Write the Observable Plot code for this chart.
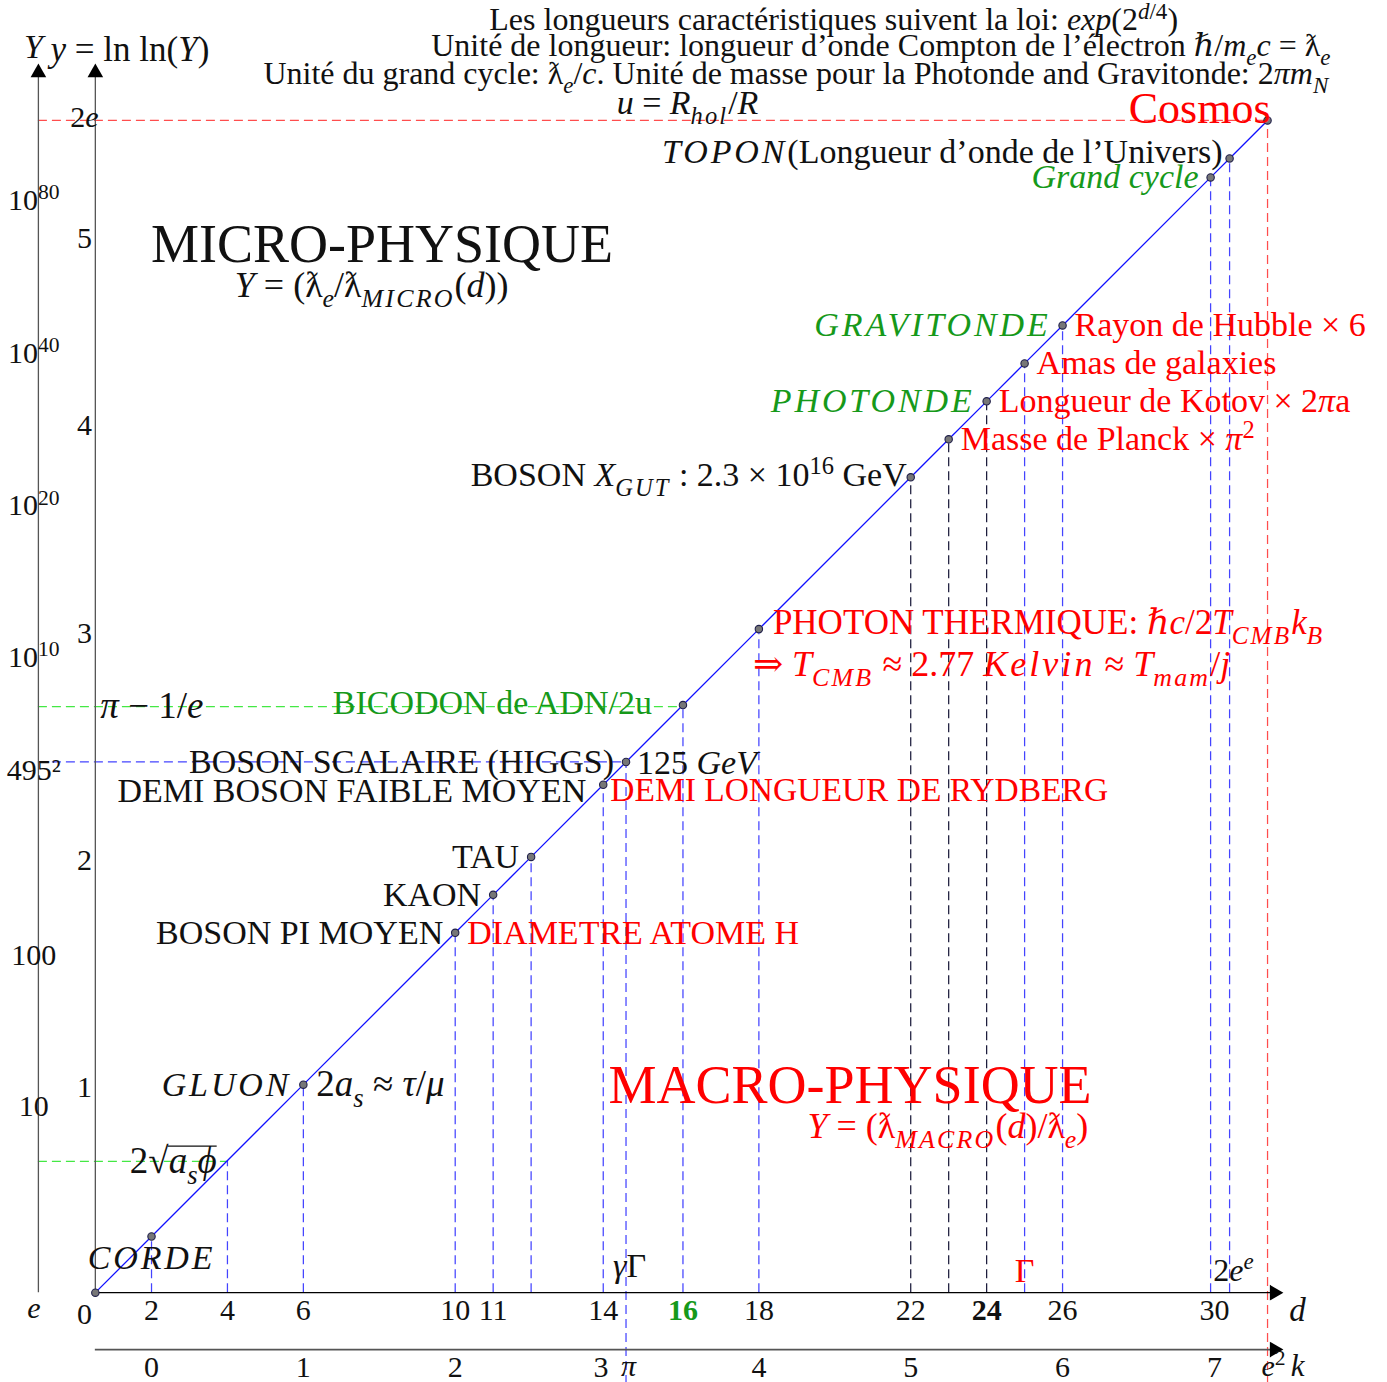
<!DOCTYPE html>
<html><head><meta charset="utf-8">
<script src="https://cdn.jsdelivr.net/npm/d3@7"></script>
<script src="https://cdn.jsdelivr.net/npm/@observablehq/plot@0.6"></script>
<style>
html,body{margin:0;padding:0;background:#fff;}
</style></head><body><div id="chart"></div>
<script>
// ---------- DATA ----------
const pointNames = ["origine","CORDE","GLUON","BOSON PI MOYEN","KAON","TAU","DEMI BOSON FAIBLE MOYEN","HIGGS","BICODON","PHOTON THERMIQUE","X_GUT","Planck","Kotov","Amas","Hubble","Grand cycle","TOPON","Cosmos"];
const pointD     = [0.52, 2, 6, 10, 11, 12, 13.9, 14.5, 16, 18, 22, 23, 24, 25, 26, 29.9, 30.4, 31.4];
const P = name => pointD[pointNames.indexOf(name)];

const blueDrops = [2, 4, 6, 10, 11, 12, 13.9, 16, 18, 25, 26, 29.9, 30.4];
const darkDrops = [22, 23, 24];
const longBlueDrops = [14.5];
const redDrops = [31.4];

const axisYd = -0.98;      // position of the Y (log) axis on the d scale
const kAxisV = -0.98;      // vertical level of the k axis
const bottomV = -1.9;

const redLevels = [31.4];
const greenLevels = [15.96, 3.98];
const blueLevels = [14.5];

const dTicks = [2, 4, 6, 10, 11, 13.9, 18, 22, 26, 30];
const dTickLabels = ["2","4","6","10","11","14","18","22","26","30"];
const dTicksBold = [24];
const dTicksGreen = [16];
const kTicks = [0,1,2,4,5,6,7];
const kTickBesidePi = [3];
const kSpecial = [Math.PI, Math.E*Math.E];
const kSpecialLabels = ["<i>π</i>", "<i>e</i><sup>2</sup>"];

const bigYLabels = ["10<sup>80</sup>","10<sup>40</sup>","10<sup>20</sup>","10<sup>10</sup>","495²","100","10","<i>e</i>"];
const bigYV      = [29.29, 25.26, 21.25, 17.25, 14.27, 9.4, 5.42, 0.1];
const smallYLabels = ["5","4","3","2","1","0","2<i>e</i>"];
const smallYV      = [28.3, 23.37, 17.88, 11.9, 5.92, -0.05, 31.47];

const title1 = [{d: 19.97, v: 34.05, text: "Les longueurs caractéristiques suivent la loi: <i>exp</i>(2<sup><i>d</i>/4</sup>)"}];
const titlesRight = [
  {d: 33.06, v: 33.37, text: "Unité de longueur: longueur d’onde Compton de l’électron ℏ/<i>m<sub>e</sub>c</i> = ƛ<sub><i>e</i></sub>"},
  {d: 33.0, v: 32.63, text: "Unité du grand cycle: ƛ<sub><i>e</i></sub>/<i>c</i>. Unité de masse pour la Photonde and Gravitonde: 2<i>πm<sub>N</sub></i>"}
];
const uNote = [{d: 16.12, v: 31.85, text: "<i>u</i> = <i>R</i><sub><m>hol</m></sub>/<i>R</i>"}];

const leftBlack = [
  {d: P("GLUON"), text: "<m>GLUON</m>"},
  {d: P("BOSON PI MOYEN"), text: "BOSON PI MOYEN"},
  {d: P("KAON"), text: "KAON"},
  {d: P("TAU"), text: "TAU"},
  {d: P("HIGGS"), text: "BOSON SCALAIRE (HIGGS)"}
];
const leftGreen = [
  {d: P("Kotov"), text: "<m>PHOTONDE</m>"},
  {d: P("Hubble"), text: "<m>GRAVITONDE</m>"},
  {d: P("Grand cycle"), text: "<i>Grand cycle</i>"}
];
const rightRed = [
  {d: P("BOSON PI MOYEN"), text: "DIAMETRE ATOME H"},
  {d: P("Planck"), text: "Masse de Planck × <i>π</i><sup>2</sup>"},
  {d: P("Kotov"), text: "Longueur de Kotov × 2<i>π</i>a"},
  {d: P("Amas"), text: "Amas de galaxies"},
  {d: P("Hubble"), text: "Rayon de Hubble × 6"}
];

// ---------- RICH TEXT ----------
function richify(svg) {
  const ns = "http://www.w3.org/2000/svg";
  svg.querySelectorAll("text").forEach(t => {
    const src = t.textContent;
    if (!/[<]/.test(src)) return;
    const base = parseFloat(getComputedStyle(t).fontSize);
    const doc = new DOMParser().parseFromString("<r>" + src + "</r>", "application/xml");
    while (t.firstChild) t.removeChild(t.firstChild);
    let cur = 0;
    const overs = [];
    (function walk(node, st) {
      node.childNodes.forEach(c => {
        if (c.nodeType === 3) {
          const s = document.createElementNS(ns, "tspan");
          s.textContent = c.nodeValue;
          const dy = st.shift - cur;
          if (Math.abs(dy) > 1e-6) s.setAttribute("dy", dy.toFixed(2));
          cur = st.shift;
          if (st.size !== base) s.setAttribute("font-size", st.size.toFixed(2));
          if (st.italic) s.setAttribute("font-style", "italic");
          if (st.bold) s.setAttribute("font-weight", "bold");
          if (st.spacing) s.setAttribute("letter-spacing", (st.spacing * st.size).toFixed(2));
          if (st.over) overs.push(s);
          t.appendChild(s);
        } else if (c.nodeType === 1) {
          const n = {...st};
          const tag = c.nodeName;
          if (tag === "i") n.italic = true;
          if (tag === "m") { n.italic = true; n.spacing = 0.085; }
          if (tag === "b") n.bold = true;
          if (tag === "o") n.over = true;
          if (tag === "sub") { n.shift = st.shift + st.size * 0.28; n.size = st.size * 0.72; }
          if (tag === "sup") { n.shift = st.shift - st.size * 0.36; n.size = st.size * 0.72; }
          walk(c, n);
        }
      });
    })(doc.documentElement, {shift: 0, size: base, italic: false, bold: false, over: false, spacing: 0});
    if (overs.length) {
      const boxes = overs.map(s => s.getBBox());
      const x1 = Math.min(...boxes.map(b => b.x)) - 1;
      const x2 = Math.max(...boxes.map(b => b.x + b.width));
      const tb = t.getBBox();
      const y = tb.y + base * 0.16;
      const ln = document.createElementNS(ns, "line");
      ln.setAttribute("x1", x1); ln.setAttribute("x2", x2);
      ln.setAttribute("y1", y); ln.setAttribute("y2", y);
      ln.setAttribute("stroke", getComputedStyle(t).fill || "#111");
      ln.setAttribute("stroke-width", 1.4);
      const tr = t.getAttribute("transform");
      if (tr) ln.setAttribute("transform", tr);
      t.parentNode.appendChild(ln);
    }
  });
}

// ---------- PLOT ----------
const X0 = 75.1, U = 37.96, Y0 = 1311.9;
const O = P("origine");
const dash = "9,5";
const BLUE_D = "#4444ff", RED_D = "#ff4d4d", GREEN_D = "#44e844";
const RED = "#ff0000", GREEN = "#16991a", INK = "#111";
const F = 34, T = 32, TICK = 30;

const pts = pointD.map((d, i) => ({d, name: pointNames[i]}));
const one = d => [{d}];
const dl = {strokeDasharray: dash, strokeWidth: 1.25};

const chart = Plot.plot({
  width: 1387, height: 1382, margin: 0,
  style: "font-family: 'Liberation Serif', 'DejaVu Serif', serif; background: white; overflow: visible;",
  x: {domain: [0, 32], range: [X0, X0 + 32 * U], axis: null},
  y: {domain: [0, 32], range: [Y0, Y0 - 32 * U], axis: null},
  marks: [
    // horizontal dashed levels (from the Y axis to the diagonal)
    Plot.ruleY(redLevels, {y: v => v, x1: () => axisYd, x2: v => v, stroke: RED_D, ...dl}),
    Plot.ruleY(greenLevels, {y: v => v, x1: () => axisYd, x2: v => v, stroke: GREEN_D, ...dl}),
    Plot.ruleY(blueLevels, {y: v => v, x1: () => axisYd, x2: v => v, stroke: BLUE_D, ...dl}),
    // vertical drop lines
    Plot.ruleX(blueDrops, {x: d => d, y1: () => O, y2: d => d, stroke: BLUE_D, ...dl}),
    Plot.ruleX(darkDrops, {x: d => d, y1: () => O, y2: d => d, stroke: "#1c1c3c", ...dl}),
    Plot.ruleX(longBlueDrops, {x: d => d, y1: () => bottomV, y2: d => d, stroke: BLUE_D, ...dl}),
    Plot.ruleX(redDrops, {x: d => d, y1: () => bottomV, y2: d => d, stroke: RED_D, ...dl}),
    // axes
    Plot.ruleX([axisYd, O], {x: d => d, y1: () => O, y2: () => 32.6, stroke: "#555", strokeWidth: 1.3}),
    Plot.ruleY([O], {y: v => v, x1: () => O, x2: () => 31.6, stroke: "#000", strokeWidth: 1.4}),
    Plot.ruleY([kAxisV], {y: v => v, x1: () => O, x2: () => 31.6, stroke: "#555", strokeWidth: 1.6}),
    Plot.dot([{x: axisYd, y: 32.66}, {x: O, y: 32.66}], {x: "x", y: "y", symbol: "triangle", r: 5.8, fill: "#000", stroke: "none"}),
    Plot.dot([{x: 31.58, y: O}, {x: 31.58, y: kAxisV}], {x: "x", y: "y", symbol: "triangle", r: 5.8, fill: "#000", stroke: "none", rotate: 90}),
    // diagonal
    Plot.line(pts, {x: "d", y: "d", stroke: "#1010ff", strokeWidth: 1.3}),
    Plot.dot(pts, {x: "d", y: "d", r: 3.7, fill: "#777", stroke: "#20204a", strokeWidth: 1.1}),

    // titles
    Plot.text(title1, {x: "d", y: "v", text: "text", fontSize: T, fill: INK}),
    Plot.text(titlesRight, {x: "d", y: "v", text: "text", textAnchor: "end", fontSize: T, fill: INK}),
    Plot.text(uNote, {x: "d", y: "v", text: "text", fontSize: 34, fill: INK}),
    Plot.text(one(P("Cosmos")), {x: "d", y: "d", text: () => "Cosmos", textAnchor: "end", dx: 3, dy: -12, fontSize: 44, fill: RED}),
    Plot.text(one(P("TOPON")), {x: "d", y: "d", text: () => "<m>TOPON</m>(Longueur d’onde de l’Univers)", textAnchor: "end", dx: -7, dy: -6, fontSize: F, fill: INK}),

    // big region labels
    Plot.text([{d: 8.07, v: 28.13}], {x: "d", y: "v", text: () => "MICRO-PHYSIQUE", fontSize: 54, fill: INK}),
    Plot.text([{d: 7.8, v: 27.05}], {x: "d", y: "v", text: () => "<i>Y</i> = (ƛ<sub><i>e</i></sub>/ƛ<sub><m>MICRO</m></sub>(<i>d</i>))", fontSize: 36, fill: INK}),
    Plot.text([{d: 14.04, v: 5.98}], {x: "d", y: "v", text: () => "MACRO-PHYSIQUE", textAnchor: "start", fontSize: 54, fill: RED}),
    Plot.text([{d: 26.68, v: 4.9}], {x: "d", y: "v", text: () => "<i>Y</i> = (ƛ<sub><m>MACRO</m></sub>(<i>d</i>)/ƛ<sub><i>e</i></sub>)", textAnchor: "end", fontSize: 36, fill: RED}),

    // point labels
    Plot.text(leftBlack, {x: "d", y: "d", text: "text", textAnchor: "end", dx: -12, fontSize: F, fill: INK}),
    Plot.text(leftGreen, {x: "d", y: "d", text: "text", textAnchor: "end", dx: -12, fontSize: F, fill: GREEN}),
    Plot.text(rightRed, {x: "d", y: "d", text: "text", textAnchor: "start", dx: 12, fontSize: F, fill: RED}),
    Plot.text(one(P("GLUON")), {x: "d", y: "d", text: () => "2<i>a</i><sub><i>s</i></sub> ≈ <i>τ</i>/<i>μ</i>", textAnchor: "start", dx: 13, fontSize: 37, fill: INK}),
    Plot.text(one(P("HIGGS")), {x: "d", y: "d", text: () => "125 <i>GeV</i>", textAnchor: "start", dx: 11, dy: 1, fontSize: F, fill: INK}),
    Plot.text(one(P("DEMI BOSON FAIBLE MOYEN")), {x: "d", y: "d", text: () => "DEMI BOSON FAIBLE MOYEN", textAnchor: "end", dx: -17, dy: 6, fontSize: F, fill: INK}),
    Plot.text(one(P("DEMI BOSON FAIBLE MOYEN")), {x: "d", y: "d", text: () => "DEMI LONGUEUR DE RYDBERG", textAnchor: "start", dx: 7, dy: 6, fontSize: 33.5, fill: RED}),
    Plot.text(one(P("BICODON")), {x: "d", y: "d", text: () => "BICODON de ADN/2u", textAnchor: "end", dx: -31, dy: -2, fontSize: F, fill: GREEN}),
    Plot.text(one(P("X_GUT")), {x: "d", y: "d", text: () => "BOSON <i>X</i><sub><m>GUT</m></sub> : 2.3 × 10<sup>16</sup> GeV", textAnchor: "end", dx: -4, dy: -2, fontSize: F, fill: INK}),
    Plot.text(one(P("PHOTON THERMIQUE")), {x: "d", y: "d", text: () => "PHOTON THERMIQUE: <i>ℏc</i>/2<i>T</i><sub><m>CMB</m></sub><i>k</i><sub><i>B</i></sub>", textAnchor: "start", dx: 14, dy: -6, fontSize: 35, fill: RED}),
    Plot.text(one(P("PHOTON THERMIQUE")), {x: "d", y: "d", text: () => "⇒ <i>T</i><sub><m>CMB</m></sub> ≈ 2.77 <m>Kelvin</m> ≈ <i>T</i><sub><m>mam</m></sub>/<i>j</i>", textAnchor: "start", dx: -6, dy: 35, fontSize: 36, fill: RED}),
    Plot.text(one(greenLevels[0]), {x: () => O, y: "d", text: () => "<i>π</i> − 1/<i>e</i>", textAnchor: "start", dx: 5, fontSize: 37, fill: INK}),
    Plot.text(one(greenLevels[1]), {x: "d", y: "d", text: () => "2√<o><i>a</i><sub><i>s</i></sub><i>ϕ</i></o>", textAnchor: "end", dx: -10, fontSize: 37, fill: INK}),
    Plot.text(one(P("CORDE")), {x: "d", y: () => 1.44, text: () => "<m>CORDE</m>", fontSize: F, fill: INK}),
    Plot.text(one(longBlueDrops[0]), {x: "d", y: () => 1.23, text: () => "<i>γ</i>Γ", textAnchor: "start", dx: -13, fontSize: F, fill: INK}),
    Plot.text(one(P("Amas")), {x: "d", y: () => 1.1, text: () => "Γ", fontSize: F, fill: RED}),
    Plot.text(one(P("TOPON")), {x: "d", y: () => 1.1, text: () => "2<i>e<sup>e</sup></i>", textAnchor: "middle", dx: 4, fontSize: 32, fill: INK}),

    // left axes labels
    Plot.text(bigYLabels.map((t, i) => ({t, v: bigYV[i]})), {x: () => -1.1, y: "v", text: "t", fontSize: 30, fill: INK}),
    Plot.text(smallYLabels.map((t, i) => ({t, v: smallYV[i]})), {x: () => 0.235, y: "v", text: "t", fontSize: TICK, fill: INK}),
    Plot.text([{}], {x: () => -1.11, y: () => 33.32, text: () => "<i>Y</i>", fontSize: 34, fill: INK}),
    Plot.text([{}], {x: () => -0.66, y: () => 33.25, text: () => "<i>y</i> = ln ln(<i>Y</i>)", textAnchor: "start", fontSize: 35, fill: INK}),

    // d axis labels
    Plot.text(dTicks.map((d, i) => ({d, t: dTickLabels[i]})), {x: "d", y: () => 0.04, text: "t", fontSize: TICK, fill: INK}),
    Plot.text(dTicksBold, {x: d => d, y: () => 0.04, text: d => String(d), fontSize: TICK, fontWeight: "bold", fill: INK}),
    Plot.text(dTicksGreen, {x: d => d, y: () => 0.04, text: d => String(d), fontSize: TICK, fontWeight: "bold", fill: GREEN}),
    Plot.text([{}], {x: () => 32.19, y: () => 0.04, text: () => "<i>d</i>", fontSize: 33, fill: INK}),
    // k axis labels (d = 4k + 2)
    Plot.text(kTicks, {x: k => 4 * k + 2, y: () => -1.45, text: k => String(k), fontSize: TICK, fill: INK}),
    Plot.text(kTickBesidePi, {x: k => 4 * k + 2, y: () => -1.45, text: k => String(k), dx: -6, fontSize: TICK, fill: INK}),
    Plot.text(kSpecial.map((k, i) => ({k, t: kSpecialLabels[i]})), {x: r => 4 * r.k + 2, y: () => -1.42, text: "t", fontSize: TICK, fill: INK}),
    Plot.text([{}], {x: () => 32.19, y: () => -1.42, text: () => "<i>k</i>", fontSize: 31, fill: INK})
  ]
});

document.getElementById("chart").appendChild(chart);
richify(chart);
</script>
</body></html>
